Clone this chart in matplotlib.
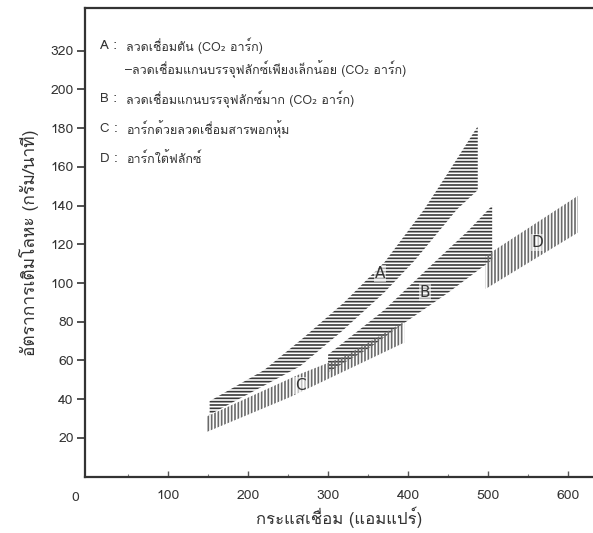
import matplotlib
matplotlib.use("Agg")
import matplotlib.pyplot as plt
import numpy as np
from matplotlib import font_manager, ft2font

# band edges (welding current A, deposition g/min)
a_upper_x = [152, 220, 270, 320, 371, 420, 450, 487]
a_upper_y = [39, 55, 72, 90, 111, 138, 157, 181]
a_lower_x = [152, 220, 265, 317, 370, 409, 461, 487]
a_lower_y = [32, 47, 57, 75, 95, 112, 138, 148]

b_upper_x = [300, 370, 431, 475, 505]
b_upper_y = [63, 86, 110, 127, 140]
b_lower_x = [300, 350, 394, 450, 505]
b_lower_y = [54, 66, 79, 95, 112]

c_upper_x = [148, 265, 320, 395]
c_upper_y = [31, 53, 62, 80]
c_lower_x = [148, 252, 394, 395]
c_lower_y = [23, 41, 69, 69]

d_upper_x = [497, 612]
d_upper_y = [114, 145]
d_lower_x = [497, 612]
d_lower_y = [97, 126]

band_labels = ["A", "B", "C", "D"]
band_label_x = [365, 421, 265, 562]
band_label_y = [105, 95, 47, 121]

x_ticks = [100, 200, 300, 400, 500, 600]
x_minor = [50, 150, 250, 350, 450, 550]
y_tick_pos = [20, 40, 60, 80, 100, 120, 140, 160, 180, 200, 220]
y_tick_labels = ["20", "40", "60", "80", "100", "120", "140", "160", "180", "200", "320"]

legend_keys = ["A :", "", "B :", "C :", "D :"]
legend_texts = [
    "ลวดเชื่อมตัน (CO₂ อาร์ก)",
    "–ลวดเชื่อมแกนบรรจุฟลักซ์เพียงเล็กน้อย (CO₂ อาร์ก)",
    "ลวดเชื่อมแกนบรรจุฟลักซ์มาก (CO₂ อาร์ก)",
    "อาร์กด้วยลวดเชื่อมสารพอกหุ้ม",
    "อาร์กใต้ฟลักซ์",
]
legend_y = [222.5, 210.5, 195, 179.5, 164]


def find_thai_font() -> str | None:
    for entry in font_manager.fontManager.ttflist:
        try:
            cmap = ft2font.FT2Font(entry.fname).get_charmap()
        except Exception:
            continue
        if 0x0E25 in cmap and 0x0E40 in cmap:
            return entry.name
    return None


thai_font = find_thai_font()
families = [thai_font, "DejaVu Sans"] if thai_font else ["DejaVu Sans"]
plt.rcParams["font.family"] = families
plt.rcParams["hatch.linewidth"] = 1.2

fig = plt.figure(figsize=(5.93, 5.33), dpi=100)
ax = fig.add_axes([0.143, 0.1058, 0.857, 0.879])


def band(ux, uy, lx, ly, hatch, color):
    xs = np.concatenate([ux, lx[::-1]])
    ys = np.concatenate([uy, ly[::-1]])
    ax.fill(xs, ys, facecolor="none", edgecolor=color, hatch=hatch, linewidth=0)


band(a_upper_x, a_upper_y, a_lower_x, a_lower_y, "-----", "#3a3a3a")
band(b_upper_x, b_upper_y, b_lower_x, b_lower_y, "-----", "#3a3a3a")
band(c_upper_x, c_upper_y, c_lower_x, c_lower_y, "|||||", "#6a6a6a")
band(d_upper_x, d_upper_y, d_lower_x, d_lower_y, "|||||", "#6a6a6a")

for label, lx, ly in zip(band_labels, band_label_x, band_label_y):
    ax.text(lx, ly, label, fontsize=11, color="#333333", ha="center", va="center",
            family=["DejaVu Sans"],
            bbox=dict(facecolor="white", edgecolor="none", pad=0.5, alpha=0.6))

for key, text, ly in zip(legend_keys, legend_texts, legend_y):
    if key:
        ax.text(15, ly, key, fontsize=9.5, color="#333333", va="center")
    ax.text(48 if key else 46, ly, text, fontsize=9, color="#333333", va="center")

ax.set_xlim(-4, 631)
ax.set_ylim(0, 242)
ax.set_xticks(x_ticks)
ax.set_xticks(x_minor, minor=True)
ax.set_yticks(y_tick_pos, y_tick_labels)
ax.tick_params(axis="x", direction="in", length=4, width=1, colors="#555555",
               labelsize=10, labelcolor="#333333", pad=10)
ax.tick_params(axis="x", which="minor", direction="in", length=2, width=0.8, colors="#777777")
ax.tick_params(axis="y", direction="out", length=6, width=1.2, colors="#333333",
               labelsize=10, pad=2)
ax.text(-16, -8, "0", fontsize=10, color="#333333", ha="center", va="top")

for side in ["left", "bottom", "top"]:
    ax.spines[side].set_linewidth(1.6)
    ax.spines[side].set_color("#333333")
ax.spines["right"].set_visible(False)

ax.set_xlabel("กระแสเชื่อม (แอมแปร์)", fontsize=12, color="#333333", labelpad=3)
ax.set_ylabel("อัตราการเติมโลหะ (กรัม/นาที)", fontsize=12.5, color="#333333", labelpad=8)

fig.savefig("out.png", dpi=100)
